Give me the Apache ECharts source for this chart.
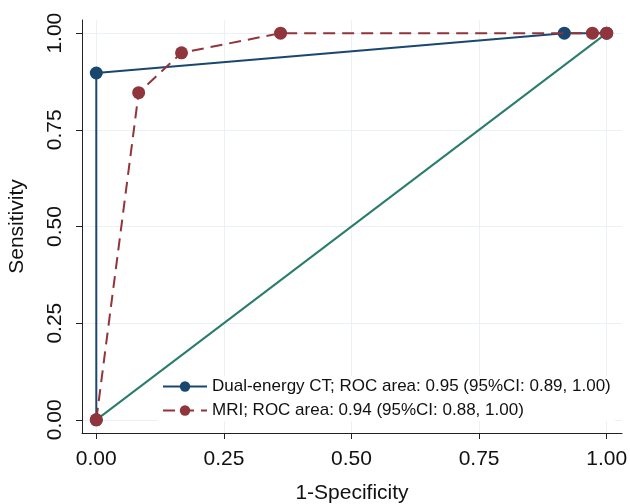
<!DOCTYPE html>
<html>
<head>
<meta charset="utf-8">
<script src="https://cdn.jsdelivr.net/npm/echarts@6/dist/echarts.min.js"></script>
<style>html,body{margin:0;padding:0;background:#fff}#c{width:630px;height:504px}</style>
</head>
<body>
<div id="c"></div>
<script>
var tickValues = [0, 0.25, 0.5, 0.75, 1];
var ctX = [0, 0, 0.917, 1];
var ctY = [0, 0.897, 1, 1];
var mriX = [0, 0.083, 0.167, 0.361, 0.972, 1];
var mriY = [0, 0.846, 0.949, 1, 1, 1];
var refX = [0, 1];
var refY = [0, 1];
var ctName = 'Dual-energy CT; ROC area: 0.95 (95%CI: 0.89, 1.00)';
var mriName = 'MRI; ROC area: 0.94 (95%CI: 0.88, 1.00)';

function pairs(xs, ys) { return xs.map(function (x, i) { return [x, ys[i]]; }); }

var font = 'Liberation Sans, Arial, Helvetica, sans-serif';
var chart = echarts.init(document.getElementById('c'));
function axisCommon(name, isY) {
  return {
    type: 'value', min: isY ? -0.034 : -0.028, max: isY ? 1.034 : 1.03,
    name: name, nameLocation: 'middle', nameGap: isY ? 54 : 50,
    nameTextStyle: { fontFamily: font, fontSize: 21, color: '#111' },
    axisLine: { show: true, onZero: false, lineStyle: { color: '#222', width: 1 } },
    axisTick: { show: true, length: 6, inside: false, customValues: tickValues, lineStyle: { color: '#222' } },
    axisLabel: { customValues: tickValues, fontFamily: font, fontSize: 21, color: '#111', margin: 16, rotate: isY ? 90 : 0,
      formatter: function (v) { return v.toFixed(2); } },
    splitLine: { show: true, lineStyle: { color: '#eaf2f8', width: 1 } }
  };
}
chart.setOption({
  animation: false,
  backgroundColor: '#fff',
  grid: { left: 82, right: 8, top: 20, bottom: 71, outerBoundsMode: 'none', containLabel: false },
  xAxis: axisCommon('1-Specificity', false),
  yAxis: axisCommon('Sensitivity', true),
  legend: {
    orient: 'vertical', left: 158, top: 376, itemWidth: 44, itemHeight: 13, itemGap: 7,
    backgroundColor: '#fff', padding: [2, 4],
    textStyle: { fontFamily: font, fontSize: 17, color: '#111' },
    data: [ctName, mriName]
  },
  series: [
    { name: 'ref', type: 'line', data: pairs(refX, refY), showSymbol: false, symbol: 'none',
      lineStyle: { color: '#2a7d6c', width: 2 }, z: 1 },
    { name: ctName, type: 'line', data: pairs(ctX, ctY), symbol: 'circle', symbolSize: 13,
      itemStyle: { color: '#1a476f' }, lineStyle: { color: '#1a476f', width: 2 }, z: 2 },
    { name: mriName, type: 'line', data: pairs(mriX, mriY), symbol: 'circle', symbolSize: 13,
      itemStyle: { color: '#90353b' }, lineStyle: { color: '#90353b', width: 2, type: [12, 7] }, z: 3 }
  ]
});
</script>
</body>
</html>
